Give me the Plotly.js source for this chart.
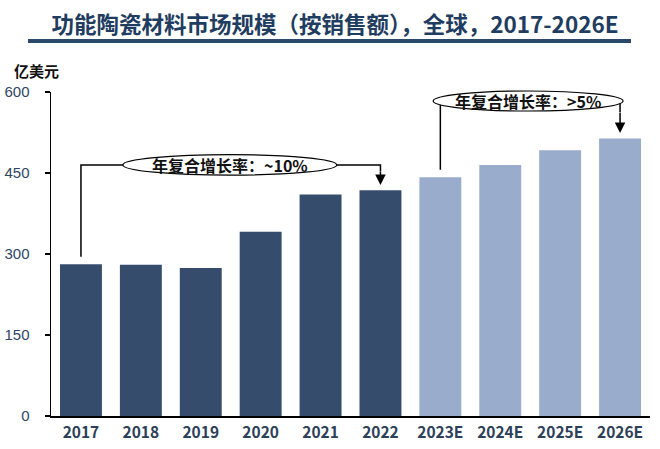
<!DOCTYPE html>
<html>
<head>
<meta charset="utf-8">
<script src="https://cdn.plot.ly/plotly-3.0.1.min.js"></script>
<style>html,body{margin:0;padding:0;background:#fff}#chart{width:660px;height:449px}</style>
</head>
<body>
<div id="chart"></div>
<script>
// ---- data ----
const years = ['2017','2018','2019','2020','2021','2022','2023E','2024E','2025E','2026E'];
const marketSize = [281, 280, 274, 341, 410, 418, 442, 465, 492, 514];
const isForecast = [false,false,false,false,false,false,true,true,true,true];
const yTicks = [0, 150, 300, 450, 600];
const titleText = '功能陶瓷材料市场规模（按销售额），全球，2017-2026E';
const unitText = '亿美元';
const cagrLeft = '年复合增长率：~10%';
const cagrRight = '年复合增长率：>5%';

const darkBlue = '#364c6d';
const lightBlue = '#9aaccb';
const colors = isForecast.map(f => f ? lightBlue : darkBlue);

const trace = {
  type: 'bar',
  x: years,
  y: marketSize,
  marker: {color: colors, line: {width: 0}},
  hoverinfo: 'x+y'
};

const gap = 14;
const lY = 465;
const rY = 583;
const cjk = '"Noto Sans CJK SC", "Noto Sans", sans-serif';

const layout = {
  width: 660, height: 449,
  margin: {l: 51, r: 10, t: 92, b: 33},
  paper_bgcolor: '#ffffff', plot_bgcolor: '#ffffff',
  bargap: 0.3,
  showlegend: false,
  title: {text: '<b>' + titleText + '</b>', x: 335/660, xref: 'container', xanchor: 'center', y: 1 - 25/449, yanchor: 'middle',
          font: {family: cjk, size: 22.5, color: '#1f3d60'}},
  xaxis: {
    type: 'category', range: [-0.5, 9.5],
    showline: true, linecolor: '#000', linewidth: 1.5,
    ticks: '', showgrid: false, zeroline: false,
    tickfont: {family: cjk, size: 15.5, color: '#2d4059', weight: 600},
    ticklabelstandoff: 2
  },
  yaxis: {
    range: [0, 600], tickvals: yTicks, ticktext: yTicks.map(String),
    showline: true, linecolor: '#000', linewidth: 1.5,
    ticks: 'outside', ticklen: 5, tickcolor: '#000', tickwidth: 1.5,
    showgrid: false, zeroline: false,
    tickfont: {family: 'Liberation Sans, Arial, sans-serif', size: 15, color: '#2e4565'},
    ticklabelstandoff: 12
  },
  shapes: [
    {type: 'line', xref: 'paper', yref: 'paper', x0: -23/599, x1: 580/599, y0: (416-41)/324, y1: (416-41)/324,
     line: {color: '#2b4a6b', width: 4}},
    {type: 'path', xref: 'x', yref: 'y',
     path: `M 0 ${marketSize[0]+gap} L 0 ${lY} L 5 ${lY} L 5 ${lY-12}`,
     line: {color: '#000', width: 1.5}},
    {type: 'circle', xref: 'x', yref: 'y', x0: 0.70, x1: 4.27, y0: lY-19, y1: lY+19,
     fillcolor: '#ffffff', line: {color: '#000', width: 1.2}},
    {type: 'path', xref: 'x', yref: 'y',
     path: `M 6 ${marketSize[6]+gap} L 6 ${rY} L 9 ${rY} L 9 ${rY-20}`,
     line: {color: '#000', width: 1.5}},
    {type: 'circle', xref: 'x', yref: 'paper', x0: 5.88, x1: 9.05, y0: (416-111)/324, y1: (416-91)/324,
     fillcolor: '#ffffff', line: {color: '#000', width: 1.2}}
  ],
  annotations: [
    {xref: 'paper', yref: 'paper', x: -39/599, y: (416-71)/324, xanchor: 'left', yanchor: 'middle',
     text: '<b>' + unitText + '</b>', showarrow: false, font: {family: cjk, size: 15, color: '#111'}},
    {xref: 'x', yref: 'y', x: 2.49, y: lY, text: cagrLeft, showarrow: false,
     font: {family: cjk, size: 16, color: '#111', weight: 600}},
    {xref: 'x', yref: 'y', x: 7.46, y: rY, text: cagrRight, showarrow: false,
     font: {family: cjk, size: 16, color: '#111', weight: 600}},
    {xref: 'x', yref: 'y', axref: 'x', ayref: 'y', x: 5, y: marketSize[5] + 10, ax: 5, ay: lY - 10,
     showarrow: true, arrowhead: 2, arrowsize: 1.4, arrowwidth: 1.5, arrowcolor: '#000', text: ''},
    {xref: 'x', yref: 'y', axref: 'x', ayref: 'y', x: 9, y: marketSize[9] + 10, ax: 9, ay: rY - 18,
     showarrow: true, arrowhead: 2, arrowsize: 1.4, arrowwidth: 1.5, arrowcolor: '#000', text: ''}
  ]
};

Plotly.newPlot('chart', [trace], layout, {displayModeBar: false, staticPlot: true});
</script>
</body>
</html>
